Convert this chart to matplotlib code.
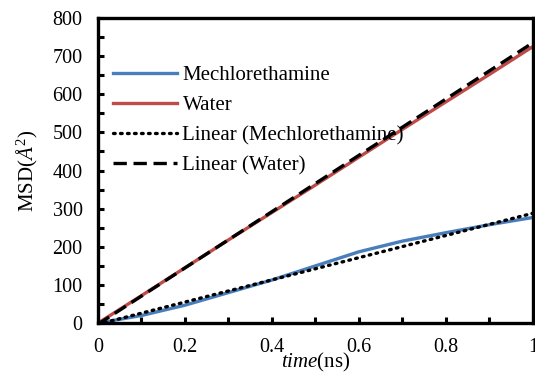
import numpy as np
import matplotlib
matplotlib.use('Agg')
from matplotlib import pyplot as plt
from matplotlib.ticker import MultipleLocator

plt.rcParams['font.family'] = ['Liberation Serif', 'DejaVu Serif']
plt.rcParams['mathtext.fontset'] = 'custom'
plt.rcParams['mathtext.rm'] = 'Liberation Serif'
plt.rcParams['mathtext.it'] = 'Liberation Serif:italic'

# datos
tiempo = [0.0, 0.1, 0.2, 0.3, 0.4, 0.5, 0.6, 0.7, 0.8, 0.9, 1.0]
msd_mech = [0, 20, 47, 80, 113, 150, 187, 215, 237, 258, 277]
msd_agua = [0, 72, 145, 218, 290, 362, 435, 508, 580, 652, 725]
t_ajuste = [0.0, 1.0]
ajuste_mech = [-3, 288]
ajuste_agua = [-3, 735]
xt_etiquetas = ['0', '0.2', '0.4', '0.6', '0.8', '1']

fig = plt.figure(figsize=(5.35, 3.74), dpi=100)
ax = fig.add_axes([0.183, 0.136, 0.813, 0.816])

ax.plot(tiempo, msd_mech, color='#4a7ebb', lw=2.4, label='Mechlorethamine')
ax.plot(tiempo, msd_agua, color='#be4b48', lw=2.4, label='Water')
ax.plot(t_ajuste, ajuste_mech, color='black', lw=2.4, ls=(0, (0.5, 1.6)),
        dash_capstyle='round', label='Linear (Mechlorethamine)')
ax.plot(t_ajuste, ajuste_agua, color='black', lw=2.4, ls=(0, (4, 2)),
        label='Linear (Water)')

ax.set_xlim(0, 1)
ax.set_ylim(0, 800)
ax.set_xticks([0, 0.2, 0.4, 0.6, 0.8, 1.0])
ax.set_xticklabels(xt_etiquetas)
ax.xaxis.set_minor_locator(MultipleLocator(0.1))
ax.yaxis.set_major_locator(MultipleLocator(100))
ax.yaxis.set_minor_locator(MultipleLocator(50))
ax.tick_params(which='both', direction='in', width=2.2, length=4,
               labelsize=14.5, color='black')
ax.tick_params(which='major', pad=11)
for s in ax.spines.values():
    s.set_linewidth(2.4)

ax.set_xlabel(r'$\mathit{time}$(ns)', fontsize=15, labelpad=-5)
ax.set_ylabel(r'MSD($\mathit{Å}^2$)', fontsize=15, labelpad=9)

ax.legend(loc='upper left', bbox_to_anchor=(0.034, 0.843), frameon=False,
          fontsize=15, handlelength=3.1, handletextpad=0.25,
          labelspacing=0.5, borderaxespad=0, borderpad=0)

fig.savefig('out.png', dpi=100)
